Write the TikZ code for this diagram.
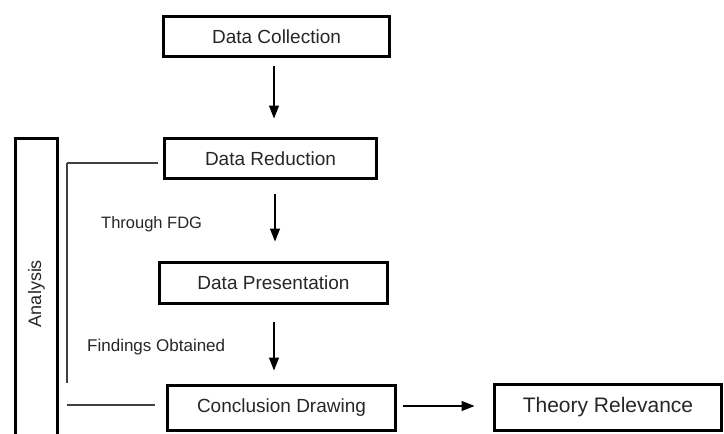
\documentclass[tikz,border=0pt]{standalone}
\usepackage{fontspec}
\setmainfont{Liberation Sans}
\usetikzlibrary{arrows.meta}
\begin{document}
\begin{tikzpicture}
% Flowchart of the analysis steps
\providecommand{\flowTextColor}{black!85}
\providecommand{\flowBoxLineWidth}{3pt}
\providecommand{\flowLineWidth}{1.2pt}
\begin{scope}[x=1pt, y=-1pt, line join=miter,
  stepbox/.style={draw=black, line width=\flowBoxLineWidth, text=\flowTextColor, inner sep=0pt, font=\fontsize{19}{22}\selectfont},
  flow/.style={draw=black, line width=\flowLineWidth, -{Triangle[length=13pt,width=10pt]}},
  bracket/.style={draw=black!75, line width=\flowLineWidth},
  note/.style={text=\flowTextColor, anchor=west, inner sep=0pt, font=\fontsize{16.5}{20}\selectfont}]
  % Page frame
  \useasboundingbox (0,0) rectangle (724,434);
  \clip (0,0) rectangle (724,434);
  % Steps
  \node[stepbox, minimum width=226pt, minimum height=40pt] (collection) at (276.5,36.5) {Data Collection};
  \node[stepbox, minimum width=212pt, minimum height=40pt] (reduction) at (270.5,158.5) {Data Reduction};
  \node[stepbox, minimum width=228pt, minimum height=41pt] (presentation) at (273.5,283) {Data Presentation};
  \node[stepbox, minimum width=228pt, minimum height=45pt] (conclusion) at (281.5,408) {Conclusion Drawing};
  \node[stepbox, minimum width=227pt, minimum height=46pt, font=\fontsize{21}{24}\selectfont] (theory) at (608,407.5) {Theory Relevance};
  % Side column, runs past the bottom edge
  \node[stepbox, rotate=90, minimum width=310pt, minimum height=42pt, font=\fontsize{18}{21}\selectfont] (analysis) at (36.5,293.5) {Analysis};
  % Notes beside the arrows
  \node[note] (fdg) at (101,224) {Through FDG};
  \node[note, font=\fontsize{17}{20}\selectfont] (findings) at (87,347) {Findings Obtained};
  % Arrows between the steps
  \draw[flow, shorten <=7.5pt, shorten >=18.5pt] ([xshift=-2.5pt]collection.south) -- ([xshift=-2.5pt]collection.south |- reduction.north);
  \draw[flow, shorten <=13.5pt, shorten >=19.5pt] ([xshift=4.5pt]reduction.south) -- ([xshift=4.5pt]reduction.south |- presentation.north);
  \draw[flow, shorten <=16.5pt, shorten >=13.5pt] ([xshift=0.5pt]presentation.south) -- ([xshift=0.5pt]presentation.south |- conclusion.north);
  \draw[flow, shorten <=5.5pt, shorten >=18.5pt] ([yshift=2pt]conclusion.east) -- ([yshift=2pt]conclusion.east -| theory.west);
  % Bracket towards the side column
  \coordinate (brtop) at (67,163);
  \coordinate (brbot) at (67,383);
  \coordinate (brlow) at (67,405);
  \draw[bracket] ([xshift=-5.5pt,yshift=-4.5pt]reduction.west) -- (brtop);
  \draw[bracket] (brtop) -- (brbot);
  \draw[bracket] ([xshift=-11.5pt,yshift=3pt]conclusion.west) -- (brlow);
\end{scope}
\end{tikzpicture}
\end{document}
